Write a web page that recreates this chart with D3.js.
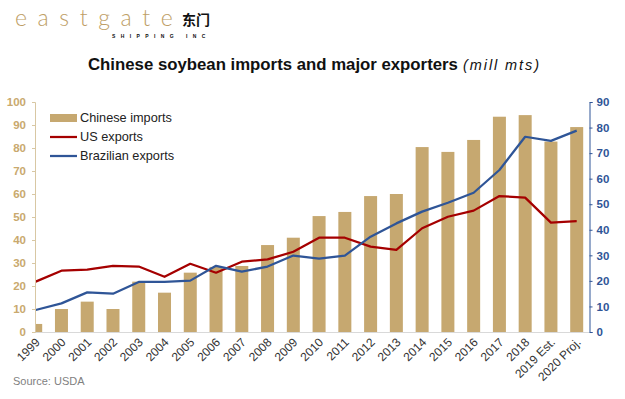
<!DOCTYPE html>
<html><head><meta charset="utf-8">
<script src="https://cdn.jsdelivr.net/npm/d3@7"></script>
<style>
html,body{margin:0;padding:0;background:#fff;}
svg{display:block;}
</style></head>
<body>
<svg id="c" width="625" height="399"></svg>
<script>
// ---- data ----
const categories = ["1999","2000","2001","2002","2003","2004","2005","2006","2007","2008","2009","2010","2011","2012","2013","2014","2015","2016","2017","2018","2019 Est.","2020 Proj."];
const chineseImports = [3.5,10.0,13.2,10.0,21.9,17.1,25.8,28.3,28.7,37.8,41.0,50.4,52.2,59.1,60.0,80.4,78.3,83.5,93.6,94.3,82.8,89.1];
const usExports = [19.7,24.0,24.4,25.9,25.6,21.6,26.7,23.2,27.5,28.4,31.4,36.9,36.9,33.4,32.1,40.6,45.1,47.5,53.2,52.6,42.8,43.4];
const brazilExports = [8.6,11.2,15.5,15.0,19.6,19.6,20.1,25.9,23.6,25.6,29.9,28.7,29.9,37.3,42.5,47.1,50.6,54.5,63.4,76.4,74.8,78.8];
const leftTicks = [0,10,20,30,40,50,60,70,80,90,100];
const rightTicks = [0,10,20,30,40,50,60,70,80,90];
const legendLabels = ["Chinese imports","US exports","Brazilian exports"];

const TAN = "#C6A870", RED = "#A50000", BLUE = "#2F5597";
const svg = d3.select("#c");
const FONT = "'Liberation Sans', Arial, sans-serif";

const x = d3.scalePoint().domain(categories).range([35.7, 576.7]);
const yL = d3.scaleLinear().domain([0,100]).range([332,102]);
const yR = d3.scaleLinear().domain([0,90]).range([332,102]);
const barW = 13;

function fitWidth(sel, target){
  const w = sel.node().getComputedTextLength();
  const fs = parseFloat(sel.attr("font-size"));
  sel.attr("font-size", (fs*target/w).toFixed(2)+"px");
}
function fitSpacing(sel, target){
  const w = sel.node().getComputedTextLength();
  const n = sel.text().length;
  sel.attr("letter-spacing", ((target-w)/(n-0.5)).toFixed(2)+"px");
}

// clip
svg.append("defs").append("clipPath").attr("id","plot")
  .append("rect").attr("x",35.5).attr("y",90).attr("width",554).attr("height",243);

// bars
svg.append("g").attr("clip-path","url(#plot)")
  .selectAll("rect").data(chineseImports).join("rect")
  .attr("x",(d,i)=>x(categories[i])-barW/2)
  .attr("width",barW)
  .attr("y",d=>yL(d))
  .attr("height",d=>yL(0)-yL(d))
  .attr("fill",TAN);

// baseline
svg.append("line").attr("x1",35).attr("x2",589).attr("y1",332.5).attr("y2",332.5)
  .attr("stroke","#D9D9D9").attr("stroke-width",1);

// lines
const line = d3.line().x((d,i)=>x(categories[i])).y(d=>yR(d));
svg.append("path").datum(usExports).attr("d",line).attr("fill","none")
  .attr("stroke",RED).attr("stroke-width",2.25).attr("stroke-linejoin","round");
svg.append("path").datum(brazilExports).attr("d",line).attr("fill","none")
  .attr("stroke",BLUE).attr("stroke-width",2.25).attr("stroke-linejoin","round");

// left axis
const gL = svg.append("g").attr("transform","translate(35,0)")
  .call(d3.axisLeft(yL).tickValues(leftTicks).tickSize(3).tickPadding(6));
gL.select(".domain").attr("stroke","#D8C7A3");
gL.selectAll(".tick line").attr("stroke","#D8C7A3");
gL.selectAll("text").attr("fill","#C9A96E").attr("font-family",FONT)
  .attr("font-weight","bold").attr("font-size","11.5px");

// right axis
const gR = svg.append("g").attr("transform","translate(589.5,0)")
  .call(d3.axisRight(yR).tickValues(rightTicks).tickSize(3).tickPadding(4));
gR.select(".domain").attr("stroke",BLUE);
gR.selectAll(".tick line").attr("stroke",BLUE);
gR.selectAll("text").attr("fill",BLUE).attr("font-family",FONT)
  .attr("font-weight","bold").attr("font-size","11.5px");

// x labels
svg.append("g").selectAll("text").data(categories).join("text")
  .attr("transform",d=>`translate(${x(d)+5},${343}) rotate(-45)`)
  .attr("text-anchor","end")
  .attr("font-family",FONT).attr("font-size","12px").attr("fill","#333")
  .text(d=>d);

// legend
const lg = svg.append("g");
lg.append("rect").attr("x",50).attr("y",114).attr("width",27).attr("height",8).attr("fill",TAN);
lg.append("line").attr("x1",50).attr("x2",77).attr("y1",137).attr("y2",137).attr("stroke",RED).attr("stroke-width",2.25);
lg.append("line").attr("x1",50).attr("x2",77).attr("y1",156).attr("y2",156).attr("stroke",BLUE).attr("stroke-width",2.25);
lg.selectAll("text.lgt").data(legendLabels).join("text").attr("class","lgt")
  .attr("x",80).attr("y",(d,i)=>118+i*19).attr("dy","0.35em")
  .attr("font-family",FONT).attr("font-size","12.5px").attr("fill","#222")
  .text(d=>d);
fitWidth(lg.select("text.lgt"), 92);
const fsL = lg.select("text.lgt").attr("font-size");
lg.selectAll("text.lgt").attr("font-size", fsL);

// title
const t1 = svg.append("text").attr("x",88).attr("y",70)
  .attr("font-family",FONT).attr("fill","#111")
  .attr("font-weight","bold").attr("font-size","17px")
  .text("Chinese soybean imports and major exporters");
fitWidth(t1, 370);
const t2 = svg.append("text").attr("x",463).attr("y",70)
  .attr("font-family",FONT).attr("fill","#111")
  .attr("font-style","italic").attr("font-size","14.5px")
  .text("(mill mts)");
fitSpacing(t2, 77);

// source
svg.append("text").attr("x",13).attr("y",385).attr("font-family",FONT)
  .attr("font-size","11px").attr("fill","#7F7F7F").text("Source: USDA");

// logo
const logo = svg.append("text").attr("x",15).attr("y",26)
  .attr("font-family","Lato, 'Open Sans', sans-serif").attr("font-weight",300)
  .attr("font-size","23px").attr("fill","#BE9E66").text("eastgate");
fitSpacing(logo, 163);
svg.append("text").attr("x",182).attr("y",25)
  .attr("font-family","'Noto Sans CJK SC', sans-serif").attr("font-weight","bold")
  .attr("font-size","14px").attr("fill","#111").text("东门");
const sh = svg.append("text").attr("x",112).attr("y",38)
  .attr("font-family",FONT).attr("font-weight","bold")
  .attr("font-size","5px").attr("fill","#111").text("SHIPPING INC");
fitSpacing(sh, 96);
</script>
</body></html>
